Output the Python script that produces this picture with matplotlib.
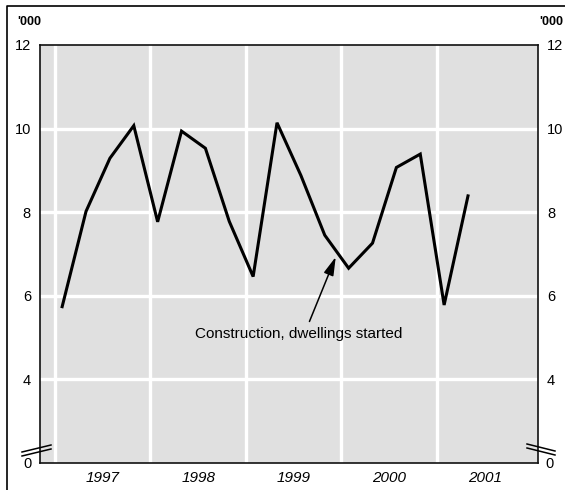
import matplotlib.pyplot as plt
import matplotlib.transforms as mtransforms
from matplotlib.lines import Line2D

plt.rcParams['font.family'] = ['Liberation Sans', 'DejaVu Sans']

# quarterly dwellings started, '000 (Mar qtr 1997 .. Jun qtr 2001)
years = [1997, 1998, 1999, 2000, 2001]
quarters = [1997.075 + 0.25 * i for i in range(18)]
dwellings = [5.74, 8.02, 9.29, 10.07, 7.77, 9.94, 9.53, 7.78, 6.46,
             10.14, 8.88, 7.45, 6.66, 7.26, 9.07, 9.39, 5.78, 8.39]
ytick_vals = [4, 6, 8, 10, 12]
ytick_labels = ['4', '6', '8', '10', '12']
break_val = 2  # axis is broken here, labelled as zero

fig = plt.figure(figsize=(5.65, 4.9), dpi=100)
ax = fig.add_axes([40 / 565, 27 / 490, 498 / 565, 418 / 490])
ax.set_facecolor('#e0e0e0')

ax.plot(quarters, dwellings, color='black', lw=2.2, solid_joinstyle='miter', zorder=3)

ax.set_xlim(1996.843, 2002.058)
ax.set_ylim(break_val, 12)

# white grid
for yr in years:
    ax.axvline(yr, color='white', lw=2.4, zorder=1)
for v in [4, 6, 8, 10]:
    ax.axhline(v, color='white', lw=2.4, zorder=1)

ax.set_xticks([y + 0.5 for y in years])
ax.set_xticklabels([str(y) for y in years], style='italic', fontsize=11)
ax.set_yticks(ytick_vals)
ax.set_yticklabels(ytick_labels, fontsize=10.5)
ax.tick_params(axis='both', length=0)
ax.tick_params(axis='y', pad=6.5, labelright=True)
ax.tick_params(axis='x', pad=6)
for side in ['left', 'right', 'top', 'bottom']:
    ax.spines[side].set_linewidth(1.2)
    ax.spines[side].set_color('#111111')

# "0" labels at the break
blend = mtransforms.blended_transform_factory(ax.transAxes, ax.transData)
ax.text(0, break_val, '0', fontsize=10.5, ha='right', va='center', clip_on=False,
        transform=blend + mtransforms.ScaledTranslation(-8 / 100, -1 / 100, fig.dpi_scale_trans))
ax.text(1, break_val, '0', fontsize=10.5, ha='left', va='center', clip_on=False,
        transform=blend + mtransforms.ScaledTranslation(7 / 100, -1 / 100, fig.dpi_scale_trans))

ax.annotate('Construction, dwellings started', xy=(1999.94, 6.93),
            xytext=(1999.555, 5.09), ha='center', va='center', fontsize=11,
            arrowprops=dict(arrowstyle='-|>,head_length=0.8,head_width=0.22',
                            color='black', lw=1.1, mutation_scale=14,
                            relpos=(0.54, 1.0), shrinkA=2, shrinkB=0))

# units labels
fig.text(17 / 565, 1 - 22 / 490, "'000", fontsize=9, fontweight='bold', va='center')
fig.text(539 / 565, 1 - 22 / 490, "'000", fontsize=9, fontweight='bold', va='center')

# axis break marks
for dy in (0, 4):
    fig.add_artist(Line2D([22 / 565, 51 / 565],
                          [1 - (452 + dy) / 490, 1 - (445 + dy) / 490],
                          color='black', lw=1.1))
    fig.add_artist(Line2D([527 / 565, 555 / 565],
                          [1 - (444 + dy) / 490, 1 - (451 + dy) / 490],
                          color='black', lw=1.1))

# outer frame (left and top)
fig.add_artist(Line2D([7 / 565, 7 / 565, 1], [0, 1 - 6 / 490, 1 - 6 / 490],
                      color='black', lw=1.2))

fig.savefig('out.png', dpi=100)
